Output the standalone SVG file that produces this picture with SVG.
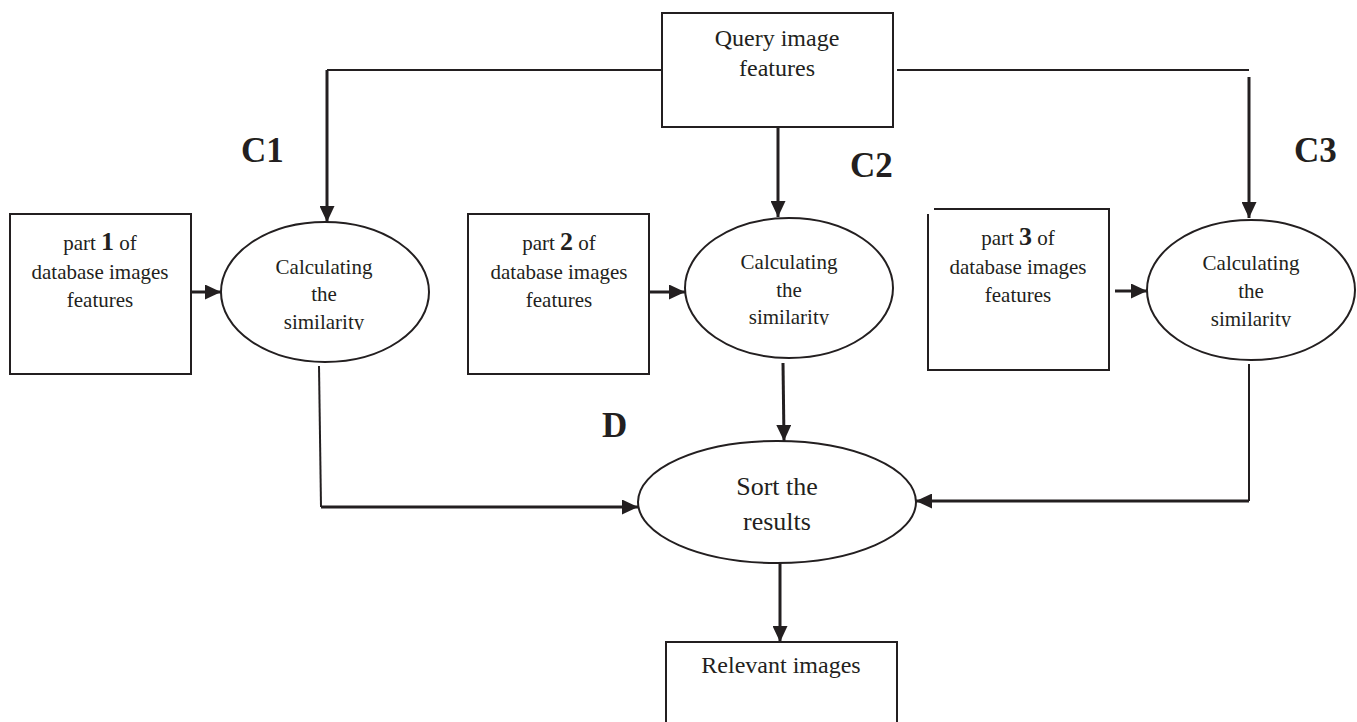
<svg xmlns="http://www.w3.org/2000/svg" width="1357" height="722" viewBox="0 0 1357 722">
  <style>
    .box { fill: #fff; stroke: #231f20; stroke-width: 2; }
    .oval { fill: #fff; stroke: #231f20; stroke-width: 2; }
    .txt { font-family: "Liberation Serif", "Times New Roman", serif; fill: #231f20; text-anchor: middle; }
    .t21 { font-size: 21px; }
    .t24 { font-size: 24px; }
    .t26 { font-size: 26px; }
    .num { font-weight: bold; font-size: 26px; }
    .lbl { font-family: "Liberation Serif", "Times New Roman", serif; font-weight: bold; font-size: 35px; fill: #231f20; }
    .wire { fill: none; stroke: #231f20; stroke-width: 2; }
    .arrow { fill: none; stroke: #231f20; stroke-width: 3; }
  </style>
  <defs>
    <marker id="head" viewBox="0 0 16 15" refX="16" refY="7.5" markerWidth="16" markerHeight="15" markerUnits="userSpaceOnUse" orient="auto">
      <path d="M0,0 L16,7.5 L0,15 Z" fill="#231f20"/>
    </marker>
    <!-- the last line inside each similarity oval is cut at its baseline -->
    <clipPath id="cut1"><rect x="220" y="220" width="210" height="110"/></clipPath>
    <clipPath id="cut2"><rect x="684" y="216" width="210" height="109"/></clipPath>
    <clipPath id="cut3"><rect x="1146" y="217" width="210" height="110"/></clipPath>
  </defs>

  <!-- connectors -->
  <g id="connectors">
    <path class="wire" d="M662,70 H327"/>
    <path class="arrow" d="M327,70 V222" marker-end="url(#head)"/>
    <path class="arrow" d="M778,127 V217" marker-end="url(#head)"/>
    <path class="wire" d="M897,70 H1249"/>
    <path class="arrow" d="M1249,77 V218" marker-end="url(#head)"/>

    <path class="arrow" d="M191,292 H221" marker-end="url(#head)"/>
    <path class="arrow" d="M649,292 H685" marker-end="url(#head)"/>
    <path class="arrow" d="M1115,291 H1147" marker-end="url(#head)"/>

    <path class="wire" d="M319,366 L321,507"/>
    <path class="arrow" d="M321,507 H638" marker-end="url(#head)"/>
    <path class="arrow" d="M783,363 L784,441" marker-end="url(#head)"/>
    <path class="wire" d="M1249,364 V501"/>
    <path class="arrow" d="M1249,501 H916" marker-end="url(#head)"/>
    <path class="arrow" d="M780,563 V642" marker-end="url(#head)"/>
  </g>

  <!-- query features -->
  <g id="query">
    <rect class="box" x="662" y="13" width="231" height="114"/>
    <text class="txt t24" x="777" y="46">Query image</text>
    <text class="txt t24" x="777" y="76">features</text>
  </g>

  <!-- database parts -->
  <g id="part1">
    <rect class="box" x="10" y="214" width="181" height="160"/>
    <text class="txt t21" x="100" y="250">part <tspan class="num">1</tspan> of</text>
    <text class="txt t21" x="100" y="279">database images</text>
    <text class="txt t21" x="100" y="307">features</text>
  </g>
  <g id="part2">
    <rect class="box" x="468" y="214" width="181" height="160"/>
    <text class="txt t21" x="559" y="250">part <tspan class="num">2</tspan> of</text>
    <text class="txt t21" x="559" y="279">database images</text>
    <text class="txt t21" x="559" y="307">features</text>
  </g>
  <g id="part3">
    <path class="box" d="M934,209 H1109 V370 H928 V214"/>
    <text class="txt t21" x="1018" y="245">part <tspan class="num">3</tspan> of</text>
    <text class="txt t21" x="1018" y="274">database images</text>
    <text class="txt t21" x="1018" y="302">features</text>
  </g>

  <!-- similarity calculations -->
  <g id="sim1">
    <ellipse class="oval" cx="325" cy="292" rx="104" ry="70"/>
    <g clip-path="url(#cut1)">
      <text class="txt t21" x="324" y="274">Calculating</text>
      <text class="txt t21" x="324" y="301">the</text>
      <text class="txt t21" x="324" y="329">similarity</text>
    </g>
  </g>
  <g id="sim2">
    <ellipse class="oval" cx="789" cy="288" rx="104" ry="70"/>
    <g clip-path="url(#cut2)">
      <text class="txt t21" x="789" y="269">Calculating</text>
      <text class="txt t21" x="789" y="297">the</text>
      <text class="txt t21" x="789" y="324">similarity</text>
    </g>
  </g>
  <g id="sim3">
    <ellipse class="oval" cx="1251" cy="290" rx="104" ry="70"/>
    <g clip-path="url(#cut3)">
      <text class="txt t21" x="1251" y="270">Calculating</text>
      <text class="txt t21" x="1251" y="298">the</text>
      <text class="txt t21" x="1251" y="326">similarity</text>
    </g>
  </g>

  <!-- sorting and output -->
  <g id="sort">
    <ellipse class="oval" cx="777" cy="502" rx="139" ry="61"/>
    <text class="txt t26" x="777" y="495">Sort the</text>
    <text class="txt t26" x="777" y="530">results</text>
  </g>
  <g id="relevant">
    <rect class="box" x="666" y="642" width="231" height="100"/>
    <text class="txt t24" x="781" y="673">Relevant images</text>
  </g>

  <!-- stage labels -->
  <g id="labels">
    <text class="lbl" x="241" y="162">C1</text>
    <text class="lbl" x="850" y="177">C2</text>
    <text class="lbl" x="1294" y="162">C3</text>
    <text class="lbl" x="602" y="437">D</text>
  </g>
</svg>
